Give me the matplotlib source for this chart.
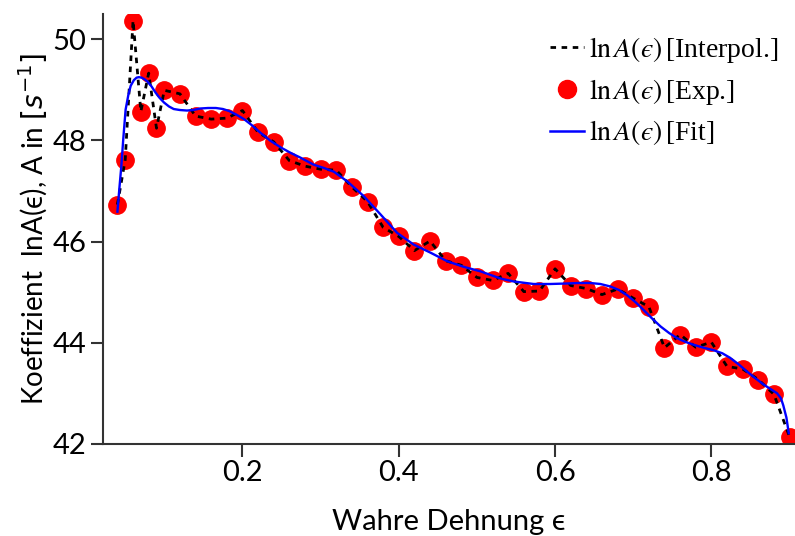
import matplotlib.pyplot as plt
from matplotlib.lines import Line2D

# measured strain values and ln A
eps_exp = [0.04, 0.05, 0.06, 0.07, 0.08, 0.09, 0.10,
           0.12, 0.14, 0.16, 0.18, 0.20, 0.22, 0.24, 0.26, 0.28, 0.30,
           0.32, 0.34, 0.36, 0.38, 0.40, 0.42, 0.44, 0.46, 0.48, 0.50,
           0.52, 0.54, 0.56, 0.58, 0.60, 0.62, 0.64, 0.66, 0.68, 0.70,
           0.72, 0.74, 0.76, 0.78, 0.80, 0.82, 0.84, 0.86, 0.88, 0.90]
lnA_exp = [46.73, 47.62, 50.37, 48.57, 49.33, 48.24, 48.99,
           48.92, 48.48, 48.42, 48.44, 48.59, 48.16, 47.97, 47.60, 47.49, 47.43,
           47.41, 47.08, 46.79, 46.28, 46.10, 45.82, 46.01, 45.62, 45.53, 45.29,
           45.23, 45.37, 45.01, 45.02, 45.46, 45.13, 45.07, 44.95, 45.06, 44.88,
           44.71, 43.90, 44.16, 43.91, 44.01, 43.53, 43.48, 43.27, 42.98, 42.14]

# fitted curve
eps_fit = [0.040, 0.0425, 0.045, 0.0475, 0.0505, 0.054, 0.057, 0.061, 0.0645,
           0.0675, 0.071, 0.0745, 0.078, 0.0835, 0.089, 0.094, 0.0995, 0.106,
           0.112, 0.120, 0.129, 0.137, 0.146, 0.156, 0.166, 0.175, 0.183,
           0.192, 0.202, 0.212, 0.223, 0.236, 0.249, 0.262, 0.274, 0.291,
           0.305, 0.317, 0.334, 0.355, 0.377, 0.398, 0.419, 0.4405, 0.462,
           0.483, 0.5045, 0.530, 0.547, 0.5726, 0.594, 0.615, 0.630, 0.645,
           0.658, 0.671, 0.682, 0.692, 0.703, 0.713, 0.724, 0.735, 0.746,
           0.756, 0.766, 0.777, 0.790, 0.803, 0.814, 0.824, 0.835, 0.8455,
           0.856, 0.867, 0.876, 0.884, 0.889, 0.892, 0.896, 0.899]
lnA_fit = [46.59, 47.05, 47.49, 48.03, 48.61, 48.90, 49.08, 49.19, 49.24,
           49.25, 49.24, 49.21, 49.17, 49.07, 48.94, 48.84, 48.75, 48.67,
           48.62, 48.60, 48.59, 48.60, 48.63, 48.64, 48.64, 48.62, 48.58,
           48.51, 48.42, 48.30, 48.15, 47.99, 47.86, 47.75, 47.66, 47.52,
           47.45, 47.38, 47.19, 46.90, 46.53, 46.17, 45.94, 45.78, 45.61,
           45.50, 45.41, 45.27, 45.21, 45.16, 45.16, 45.17, 45.18, 45.18,
           45.16, 45.11, 45.04, 44.94, 44.80, 44.65, 44.48, 44.32, 44.19,
           44.09, 44.02, 43.96, 43.90, 43.85, 43.79, 43.70, 43.57, 43.43,
           43.30, 43.17, 43.08, 43.00, 42.90, 42.76, 42.52, 42.21]

sans = ['Lato', 'DejaVu Sans']

fig = plt.figure(figsize=(7.95, 5.36), dpi=100)
ax = fig.add_axes([0.13, 0.172, 0.87, 0.802])

ax.plot(eps_exp, lnA_exp, 'o', color='red', markersize=12.5, zorder=2)
ax.plot(eps_exp, lnA_exp, color='black', linestyle=(0, (2, 2)), linewidth=2, zorder=3)
ax.plot(eps_fit, lnA_fit, color='blue', linewidth=1.7, zorder=4)

ax.set_xlim(0.022, 0.907)
ax.set_ylim(42, 50.5)
ax.set_xticks([0.2, 0.4, 0.6, 0.8])
ax.set_yticks([42, 44, 46, 48, 50])

for side in ['top', 'right']:
    ax.spines[side].set_visible(False)
for side in ['left', 'bottom']:
    ax.spines[side].set_linewidth(1.5)
    ax.spines[side].set_color('#333333')
ax.tick_params(length=9, width=1.5, color='#333333', labelsize=21, pad=3)
for lbl in ax.get_xticklabels() + ax.get_yticklabels():
    lbl.set_family(sans)

ax.set_xlabel('Wahre Dehnung ϵ', fontsize=21, family=sans, labelpad=16)
ax.set_ylabel(r'Koeffizient  lnA(ϵ), A in $[s^{-1}]$', fontsize=20,
              family=sans, math_fontfamily='dejavusans', labelpad=2)

handles = [
    Line2D([], [], color='black', linestyle=(0, (2, 2)), linewidth=2),
    Line2D([], [], marker='o', color='red', linestyle='none', markersize=13),
    Line2D([], [], color='blue', linewidth=1.8),
]
labels = [r'$\ln A(ϵ)\,$[Interpol.]',
          r'$\ln A(ϵ)\,$[Exp.]',
          r'$\ln A(ϵ)\,$[Fit]']
leg = ax.legend(handles, labels, loc='upper right', frameon=False,
                prop={'family': 'Liberation Serif', 'size': 20},
                handlelength=1.2, handletextpad=0.2, labelspacing=0.42,
                borderaxespad=0.2, bbox_to_anchor=(1.0, 0.99))
for t in leg.get_texts():
    t.set_math_fontfamily('stix')

fig.savefig('out.png', dpi=100)
